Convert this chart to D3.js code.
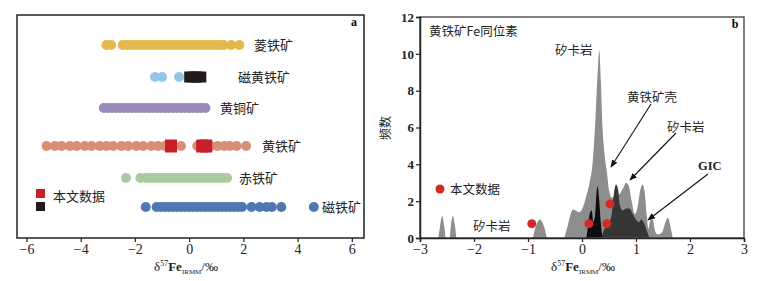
<!DOCTYPE html>
<html>
<head>
<meta charset="utf-8">
<script src="https://cdn.jsdelivr.net/npm/d3@7"></script>
<style>
body { margin: 0; background: #fff; }
text { font-family: "Liberation Serif", "Noto Sans CJK SC", serif; }
.cjk { font-family: "Noto Sans CJK SC", sans-serif; }
</style>
</head>
<body>
<script>
// ---- panel a data: δ57Fe values per mineral (dots) ----
var minerals = ["菱铁矿", "磁黄铁矿", "黄铜矿", "黄铁矿", "赤铁矿", "磁铁矿"];
var sideriteVals = [-3.05, -2.88, -2.45, -2.3, -2.15, -2.0, -1.85, -1.7, -1.55, -1.4, -1.25, -1.1, -0.95, -0.8, -0.65, -0.5, -0.35, -0.2, -0.05, 0.1, 0.25, 0.4, 0.55, 0.7, 0.85, 1.0, 1.15, 1.28, 1.55, 1.85];
var pyrrhotiteVals = [-1.26, -1.0, -0.37];
var chalcopyriteVals = [-3.15, -3.0, -2.85, -2.7, -2.55, -2.4, -2.25, -2.1, -1.95, -1.8, -1.65, -1.5, -1.35, -1.2, -1.05, -0.9, -0.75, -0.6, -0.45, -0.3, -0.15, 0.0, 0.15, 0.3, 0.45, 0.6];
var pyriteVals = [-5.26, -4.95, -4.7, -4.4, -4.15, -3.85, -3.6, -3.3, -3.05, -2.8, -2.5, -2.25, -1.95, -1.7, -1.4, -1.15, -0.9, -0.6, -0.3, 0.3, 0.55, 0.8, 1.05, 1.3, 1.5, 1.75, 2.1];
var hematiteVals = [-2.33, -1.8, -1.6, -1.45, -1.3, -1.15, -1.0, -0.85, -0.7, -0.55, -0.4, -0.25, -0.1, 0.05, 0.2, 0.35, 0.5, 0.65, 0.8, 0.95, 1.1, 1.25, 1.4];
var magnetiteVals = [-1.6, -1.2, -1.05, -0.9, -0.75, -0.6, -0.45, -0.3, -0.15, 0.0, 0.15, 0.3, 0.45, 0.6, 0.75, 0.9, 1.05, 1.2, 1.35, 1.5, 1.65, 1.8, 1.95, 2.3, 2.6, 2.85, 3.05, 3.4, 4.6];
var dotSeries = [sideriteVals, pyrrhotiteVals, chalcopyriteVals, pyriteVals, hematiteVals, magnetiteVals];
var dotColors = ["#e5b84c", "#93c7e6", "#9a8bbd", "#d98e77", "#a9cc9f", "#4f78b3"];
// this study (squares)
var studyPyrite = [-0.67, 0.48, 0.63];
var studyPyrrhotite = [0.02, 0.15, 0.28, 0.43];
var xTicksA = [-6, -4, -2, 0, 2, 4, 6];

// ---- panel b data: frequency curves [δ57Fe, count] ----
var greyCurve = [[-2.66, 0], [-2.63, 0.6], [-2.59, 1.2], [-2.55, 0.6], [-2.52, 0], [-2.45, 0], [-2.43, 0.6], [-2.39, 1.2], [-2.35, 0.6], [-2.32, 0],
  [-0.92, 0], [-0.86, 0.6], [-0.78, 1.0], [-0.7, 0.6], [-0.64, 0], [-0.34, 0], [-0.28, 0.5], [-0.22, 1.2], [-0.17, 1.55], [-0.12, 1.5], [-0.05, 1.4],
  [0.02, 1.7], [0.08, 2.3], [0.14, 3.0], [0.2, 4.2], [0.25, 6.5], [0.29, 9.0], [0.32, 10.2], [0.35, 8.5], [0.38, 6.0], [0.42, 4.5], [0.46, 3.6],
  [0.5, 2.6], [0.55, 2.2], [0.62, 2.3], [0.7, 2.4], [0.76, 2.7], [0.82, 3.0], [0.87, 2.8], [0.92, 2.0], [0.98, 1.3], [1.03, 1.7], [1.08, 2.6],
  [1.12, 2.9], [1.16, 2.5], [1.2, 1.2], [1.23, 0.5], [1.27, 1.0], [1.31, 1.0], [1.35, 0.4], [1.4, 0.2], [1.48, 0.3], [1.55, 0.9], [1.59, 1.1],
  [1.64, 0.6], [1.68, 0]];
var blackCurve = [[0.08, 0], [0.11, 0.6], [0.15, 1.4], [0.18, 1.5], [0.21, 0.9], [0.24, 1.2], [0.27, 2.5], [0.29, 2.8], [0.32, 2.0], [0.35, 0.8], [0.38, 0]];
var darkCurve = [[0.36, 0], [0.4, 0.4], [0.45, 0.6], [0.5, 0.8], [0.55, 1.3], [0.59, 2.4], [0.63, 2.9], [0.67, 2.6], [0.7, 1.8], [0.75, 1.5],
  [0.82, 1.6], [0.88, 1.6], [0.94, 1.3], [1.0, 1.0], [1.05, 0.85], [1.1, 1.0], [1.15, 0.8], [1.2, 0.4], [1.25, 0]];
var studyPoints = [[-0.93, 0.78], [0.13, 0.78], [0.46, 0.78], [0.52, 1.85]];
var xTicksB = [-3, -2, -1, 0, 1, 2, 3];
var yTicksB = [0, 2, 4, 6, 8, 10, 12];

var svg = d3.select("body").append("svg")
    .attr("width", 765).attr("height", 281)
    .style("display", "block");

svg.append("defs").append("marker")
    .attr("id", "arr").attr("viewBox", "0 0 10 10")
    .attr("refX", 9).attr("refY", 5)
    .attr("markerWidth", 7).attr("markerHeight", 7)
    .attr("orient", "auto")
    .append("path").attr("d", "M0,1 L10,5 L0,9 Z").attr("fill", "#111");

// ================= panel a =================
var ax = d3.scaleLinear().domain([-6.35, 6.45]).range([17, 364]);
var rowY = {"菱铁矿": 45, "磁黄铁矿": 77, "黄铜矿": 108, "黄铁矿": 146, "赤铁矿": 178, "磁铁矿": 207};

var ga = svg.append("g");
ga.append("rect").attr("x", 17).attr("y", 15).attr("width", 347).attr("height", 223)
    .attr("fill", "none").attr("stroke", "#222").attr("stroke-width", 1.5);

dotSeries.forEach(function (vals, i) {
    ga.selectAll(".d" + i).data(vals).enter().append("circle")
        .attr("cx", function (d) { return ax(d); })
        .attr("cy", rowY[minerals[i]])
        .attr("r", 5)
        .attr("fill", dotColors[i]);
});

ga.selectAll(".sq1").data(studyPyrite).enter().append("rect")
    .attr("x", function (d) { return ax(d) - 6; })
    .attr("y", rowY["黄铁矿"] - 6.5)
    .attr("width", 12).attr("height", 13)
    .attr("fill", "#c8202a");
ga.selectAll(".sq2").data(studyPyrrhotite).enter().append("rect")
    .attr("x", function (d) { return ax(d) - 5.5; })
    .attr("y", rowY["磁黄铁矿"] - 5.5)
    .attr("width", 11).attr("height", 11)
    .attr("fill", "#231a1c");

var labA = {"菱铁矿": 254, "磁黄铁矿": 238, "黄铜矿": 220, "黄铁矿": 262, "赤铁矿": 239, "磁铁矿": 322};
minerals.forEach(function (m) {
    ga.append("text").attr("class", "cjk")
        .attr("x", labA[m]).attr("y", rowY[m]).attr("dy", "0.36em")
        .attr("font-size", 13).attr("fill", "#222").text(m);
});

ga.append("text").attr("x", 354).attr("y", 26).attr("font-size", 12)
    .attr("font-weight", "bold").attr("text-anchor", "middle").text("a");

// legend
ga.append("rect").attr("x", 36).attr("y", 189).attr("width", 9).attr("height", 9).attr("fill", "#c8202a");
ga.append("rect").attr("x", 36).attr("y", 202).attr("width", 9).attr("height", 9).attr("fill", "#231a1c");
ga.append("text").attr("class", "cjk").attr("x", 53).attr("y", 196).attr("dy", "0.36em")
    .attr("font-size", 13).attr("fill", "#222").text("本文数据");

var axisA = ga.append("g").attr("transform", "translate(0,238)")
    .call(d3.axisBottom(ax).tickValues(xTicksA).tickSize(4).tickFormat(function (d) { return d < 0 ? "−" + (-d) : d; }));
axisA.select(".domain").remove();
axisA.selectAll("line").attr("stroke", "#222").attr("stroke-width", 1.2);
axisA.selectAll("text").attr("font-size", 14).attr("fill", "#222")
    .style("font-family", "Liberation Serif").attr("y", 6);

function axisTitle(g, cx) {
    var t = g.append("text").attr("x", cx).attr("y", 271).attr("text-anchor", "middle")
        .attr("font-size", 13).attr("fill", "#222").style("font-family", "Liberation Serif");
    t.append("tspan").text("δ");
    t.append("tspan").attr("font-size", 8).attr("dy", -5).text("57");
    t.append("tspan").attr("dy", 5).attr("font-weight", "bold").text("Fe");
    t.append("tspan").attr("font-size", 7).attr("dy", 3).text("IRMM");
    t.append("tspan").attr("dy", -3).text("/‰");
}
axisTitle(ga, 186);

// ================= panel b =================
var bx = d3.scaleLinear().domain([-3, 3]).range([420, 744]);
var by = d3.scaleLinear().domain([0, 12]).range([238, 17]);
var gb = svg.append("g");

var area = d3.area()
    .x(function (d) { return bx(d[0]); })
    .y0(by(0))
    .y1(function (d) { return by(d[1]); })
    .curve(d3.curveMonotoneX);

gb.append("path").datum(greyCurve).attr("d", area).attr("fill", "#8d8d8d");
gb.append("path").datum(darkCurve).attr("d", area).attr("fill", "#363636");
gb.append("path").datum(blackCurve).attr("d", area).attr("fill", "#0d0d0d");

gb.selectAll(".pt").data(studyPoints).enter().append("circle")
    .attr("cx", function (d) { return bx(d[0]); })
    .attr("cy", function (d) { return by(d[1]); })
    .attr("r", 4.5).attr("fill", "#d02a2a");

// frame and axes
gb.append("rect").attr("x", 420).attr("y", 17).attr("width", 324).attr("height", 221)
    .attr("fill", "none").attr("stroke", "#555").attr("stroke-width", 1.5);

var axisBx = gb.append("g").attr("transform", "translate(0,238)")
    .call(d3.axisBottom(bx).tickValues(xTicksB).tickSize(4).tickFormat(function (d) { return d < 0 ? "−" + (-d) : d; }));
axisBx.select(".domain").attr("stroke", "#222").attr("stroke-width", 1.5);
axisBx.selectAll("line").attr("stroke", "#222").attr("stroke-width", 1.2);
axisBx.selectAll("text").attr("font-size", 14).attr("fill", "#222")
    .style("font-family", "Liberation Serif").attr("y", 6);

var axisBy = gb.append("g").attr("transform", "translate(420,0)")
    .call(d3.axisLeft(by).tickValues(yTicksB).tickSize(4));
axisBy.select(".domain").attr("stroke", "#222").attr("stroke-width", 1.5);
axisBy.selectAll("line").attr("stroke", "#222").attr("stroke-width", 1.2);
axisBy.selectAll("text").attr("font-size", 13).attr("fill", "#222")
    .style("font-family", "Liberation Serif").attr("font-weight", "bold").attr("x", -6);

gb.append("text").attr("class", "cjk")
    .attr("transform", "translate(390,128) rotate(-90)")
    .attr("text-anchor", "middle").attr("font-size", 12).attr("fill", "#222").text("频数");

axisTitle(gb, 583);

gb.append("text").attr("class", "cjk").attr("x", 429).attr("y", 31).attr("dy", "0.36em")
    .attr("font-size", 12.5).attr("fill", "#222").text("黄铁矿Fe同位素");
gb.append("text").attr("x", 735).attr("y", 28).attr("font-size", 12)
    .attr("font-weight", "bold").attr("text-anchor", "middle").text("b");

// legend b
gb.append("circle").attr("cx", 440).attr("cy", 189).attr("r", 4.5).attr("fill", "#d02a2a");
gb.append("text").attr("class", "cjk").attr("x", 450).attr("y", 189).attr("dy", "0.36em")
    .attr("font-size", 12.5).attr("fill", "#222").text("本文数据");

// annotations
function note(txt, x, y) {
    gb.append("text").attr("class", "cjk").attr("x", x).attr("y", y).attr("dy", "0.36em")
        .attr("font-size", 12.5).attr("fill", "#222").text(txt);
}
note("矽卡岩", 555, 50);
note("黄铁矿壳", 627, 97);
note("矽卡岩", 667, 127);
note("矽卡岩", 473, 226);
gb.append("text").attr("x", 698).attr("y", 165).attr("dy", "0.36em")
    .attr("font-size", 12.5).attr("fill", "#222").attr("font-weight", "bold")
    .style("font-family", "Liberation Serif").text("GIC");

function arrow(x1, y1, x2, y2) {
    gb.append("line").attr("x1", x1).attr("y1", y1).attr("x2", x2).attr("y2", y2)
        .attr("stroke", "#111").attr("stroke-width", 1.1).attr("marker-end", "url(#arr)");
}
arrow(651, 104, 611, 167);
arrow(676, 133, 630, 180);
arrow(708, 174, 648, 220);
</script>
</body>
</html>
